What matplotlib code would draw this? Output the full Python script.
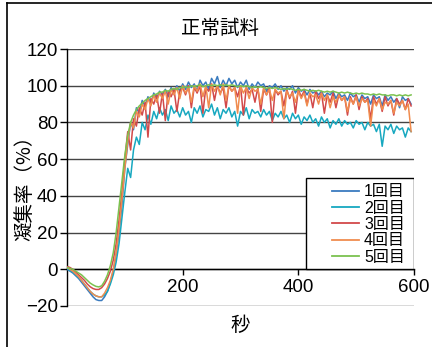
import numpy as np
import matplotlib
matplotlib.use("Agg")
import matplotlib.pyplot as plt
from matplotlib.patches import Rectangle
from matplotlib.lines import Line2D

plt.rcParams['font.family'] = ['Liberation Sans', 'Noto Sans CJK JP', 'DejaVu Sans']

title = "正常試料"
xlabel = "秒"
ylabel = "凝集率（%）"
labels = ["1回目", "2回目", "3回目", "4回目", "5回目"]
colors = ["#3a7bbf", "#17a8c0", "#d2494a", "#f08c4f", "#7bc24f"]
step = 5  # seconds between samples

run1 = [0, -1, -2, -3.5, -5, -7, -9, -11, -13, -15, -16.5, -17, -17, -15, -12, -7, -1, 8, 20, 35,
        55, 68, 80, 76, 88, 85, 92, 89, 94, 90, 96, 93, 97, 95, 98, 94, 99, 96, 100, 97,
        101, 98, 102, 99, 101, 97, 103, 100, 102, 98, 104, 101, 105, 99, 103, 100, 104, 101, 103, 99,
        102, 100, 103, 98, 101, 99, 102, 100, 101, 97, 100, 99, 101, 98, 100, 97, 99, 98, 100, 96,
        99, 97, 98, 95, 98, 96, 97, 95, 97, 94, 96, 95, 97, 93, 96, 94, 95, 92, 96, 94,
        95, 91, 95, 93, 94, 90, 95, 93, 94, 89, 95, 92, 94, 91, 93, 88, 94, 92, 93, 90]
run2 = [0.5, -0.5, -1.5, -3, -4.5, -6, -8, -10, -12, -13.5, -14.5, -15, -15, -14, -12, -8, -3, 4, 14, 28,
        42, 55, 50, 65, 72, 68, 80, 76, 84, 79, 86, 82, 88, 84, 87, 81, 89, 85, 87, 83,
        88, 84, 86, 80, 88, 85, 89, 83, 87, 86, 90, 84, 88, 82, 87, 85, 88, 83, 86, 78,
        86, 84, 88, 82, 87, 85, 86, 83, 87, 84, 86, 81, 85, 83, 86, 82, 84, 80, 85, 82,
        84, 79, 83, 81, 84, 80, 82, 78, 83, 80, 82, 77, 81, 79, 82, 78, 81, 79, 80, 77,
        81, 79, 80, 76, 80, 78, 79, 75, 79, 67, 78, 76, 79, 74, 78, 76, 77, 72, 77, 75]
run3 = [1.5, 1, 0, -1.5, -3, -4.5, -6, -8, -9.5, -10.5, -11, -11, -10, -8, -5, -1, 5, 14, 27, 42,
        60, 75, 65, 82, 78, 88, 84, 91, 72, 93, 90, 95, 85, 96, 81, 97, 94, 98, 86, 97,
        99, 95, 100, 88, 99, 96, 100, 85, 99, 97, 101, 92, 100, 96, 99, 88, 100, 97, 99, 94,
        100, 84, 99, 96, 98, 91, 99, 86, 98, 95, 99, 80, 98, 95, 97, 89, 98, 93, 97, 85,
        98, 94, 97, 90, 96, 88, 97, 93, 96, 85, 95, 91, 96, 88, 95, 92, 94, 84, 94, 90,
        95, 87, 94, 91, 93, 82, 94, 90, 93, 86, 94, 89, 92, 84, 93, 90, 92, 87, 93, 89]
run4 = [1, 0, -1, -2.5, -4, -6, -8, -10, -12, -13.5, -14.5, -15, -15, -13, -10, -6, 0, 9, 22, 38,
        55, 70, 80, 77, 86, 83, 90, 87, 93, 89, 95, 91, 96, 93, 97, 90, 98, 95, 99, 93,
        100, 96, 99, 91, 100, 97, 101, 94, 100, 88, 101, 97, 100, 95, 101, 92, 100, 97, 99, 85,
        100, 96, 99, 93, 99, 97, 98, 90, 99, 95, 98, 92, 98, 96, 97, 82, 97, 94, 96, 91,
        97, 93, 96, 89, 96, 94, 95, 90, 96, 92, 95, 88, 94, 91, 95, 92, 94, 86, 93, 90,
        94, 89, 93, 91, 92, 78, 92, 89, 93, 87, 91, 90, 92, 85, 91, 89, 92, 87, 90, 75]
run5 = [1, 0.5, 0, -1, -2, -3, -4.5, -6, -7.5, -8.5, -9.3, -9.6, -9, -6.5, -3, 2, 9, 20, 34, 48,
        62, 73, 80, 84, 87, 89, 90.5, 92, 93, 94, 95, 95.5, 96.5, 96.5, 97.5, 97, 98, 98.5, 98, 99,
        99, 99.5, 99, 100, 99.5, 100, 100.5, 99.5, 100, 100.5, 100, 100.5, 100, 100.5, 100, 100.5, 100, 100.5, 100, 99.5,
        100, 99.5, 100, 99.5, 99, 99.5, 99, 99.5, 99, 98.5, 99, 98.5, 99, 98.5, 98, 98.5, 98, 98.5, 98, 97.5,
        98, 97.5, 98, 97.5, 97, 97.5, 97, 97.5, 97, 96.5, 97, 96.5, 97, 96.5, 96, 96.5, 96, 96.5, 96, 95.5,
        96, 95.5, 96, 95.5, 95.5, 95, 95.5, 95, 95.5, 95, 95, 94.5, 95, 95, 94.5, 95, 94.5, 95, 94.5, 95]
runs = [run1, run2, run3, run4, run5]

xticks = [200, 400, 600]
yticks = [-20, 0, 20, 40, 60, 80, 100, 120]

fig = plt.figure(figsize=(4.32, 3.47), dpi=100)
ax = fig.add_axes([67/432, 1-306/347, (414-67)/432, (306-49)/347])

for vals, c in zip(runs, colors):
    t = np.arange(len(vals)) * step
    ax.plot(t, vals, color=c, lw=1.1, zorder=3)

ax.set_xlim(0, 600)
ax.set_ylim(-20, 120)
ax.set_yticks(yticks)
ax.set_xticks(xticks)
ax.grid(axis='y', color='#444444', lw=1.0, zorder=1)
for s in ['top', 'right']:
    ax.spines[s].set_visible(False)
ax.spines['bottom'].set_position(('data', 0))
ax.spines['bottom'].set_color('black')
ax.spines['bottom'].set_linewidth(1.0)
ax.spines['bottom'].set_zorder(2)
ax.spines['left'].set_linewidth(1.0)
ax.tick_params(axis='y', direction='out', length=5, width=1.0, pad=1.5, labelsize=13.5)
ax.tick_params(axis='x', direction='out', length=4, width=1.0, pad=3, labelsize=13.5)

# legend box
box = Rectangle((0.689, (0+20)/140), 1-0.689, 0.498-20/140, transform=ax.transAxes,
                facecolor='white', edgecolor='black', lw=1.0, zorder=5)
ax.add_patch(box)
handles = [Line2D([], [], color=c, lw=1.3) for c in colors]
leg = ax.legend(handles, labels, loc='center left', bbox_to_anchor=(0.764, 0.317),
                frameon=False, fontsize=11.5, borderpad=0, borderaxespad=0,
                handlelength=1.7, handletextpad=0.3, labelspacing=0.08)
leg.set_zorder(6)

fig.text(0.51, 1-28/347, title, ha='center', va='center', fontsize=14,
         family=['Noto Sans CJK JP', 'DejaVu Sans'])
fig.text(240/432, 1-325/347, xlabel, ha='center', va='center', fontsize=14,
         family=['Noto Sans CJK JP', 'DejaVu Sans'])
fig.text(25/432, 1-183/347, ylabel, ha='center', va='center', rotation=90, fontsize=14,
         family=['Noto Sans CJK JP', 'DejaVu Sans'])

# outer frame
fig.add_artist(Line2D([6.5/432, 6.5/432], [0, 1-3/347], color='black', lw=1.2, transform=fig.transFigure))
fig.add_artist(Line2D([6.5/432, 1], [1-3/347, 1-3/347], color='black', lw=1.2, transform=fig.transFigure))

fig.savefig("out.png", dpi=100)
